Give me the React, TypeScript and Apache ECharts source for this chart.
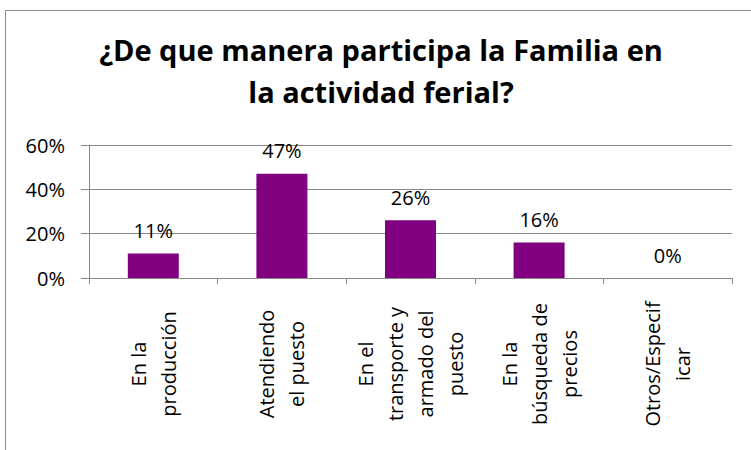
import React, { useEffect, useRef } from "react";
import * as echarts from "echarts";

const titleText = "¿De que manera participa la Familia en\nla actividad ferial?";
const categories = [
  "En la\nproducción",
  "Atendiendo\nel puesto",
  "En el\ntransporte y\narmado del\npuesto",
  "En la\nbúsqueda de\nprecios",
  "Otros/Especif\nicar",
];
const values = [0.11, 0.47, 0.26, 0.16, 0];
const yTicks = { min: 0, max: 0.6, interval: 0.2 };

const FONT = "Open Sans";

export default function App() {
  const ref = useRef<HTMLDivElement>(null);
  useEffect(() => {
    if (!ref.current) return;
    const chart = echarts.init(ref.current, undefined, { renderer: "svg" });
    chart.setOption({
      animation: false,
      backgroundColor: "#ffffff",
      textStyle: { fontFamily: FONT },
      title: {
        text: titleText,
        left: 381,
        textAlign: "center",
        top: 28,
        padding: 0,
        textStyle: {
          fontFamily: FONT,
          fontSize: 29,
          fontWeight: "bold",
          color: "#000",
          lineHeight: 42,
        },
      },
      graphic: [
        {
          type: "rect",
          shape: { x: 5.5, y: 10.5, width: 800, height: 500 },
          style: { fill: "none", stroke: "#8c8c8c", lineWidth: 1 },
          silent: true,
        },
      ],
      grid: { left: 89, right: 19, top: 145, bottom: 172 },
      xAxis: {
        type: "category",
        data: categories,
        axisLine: { lineStyle: { color: "#888", width: 1 } },
        axisTick: { show: true, length: 6, lineStyle: { color: "#888" } },
        axisLabel: {
          rotate: 90,
          align: "center",
          verticalAlign: "middle",
          margin: 86,
          interval: 0,
          color: "#000",
          fontFamily: FONT,
          fontSize: 20,
          lineHeight: 30,
        },
      },
      yAxis: {
        type: "value",
        min: yTicks.min,
        max: yTicks.max,
        interval: yTicks.interval,
        axisLine: { show: true, lineStyle: { color: "#888", width: 1 } },
        axisTick: { show: true, length: 8, lineStyle: { color: "#888" } },
        splitLine: { show: true, lineStyle: { color: "#888", width: 1 } },
        axisLabel: {
          margin: 24,
          color: "#000",
          fontFamily: FONT,
          fontSize: 20,
          formatter: (v: number) => `${Math.round(v * 100)}%`,
        },
      },
      series: [
        {
          type: "bar",
          data: values,
          barWidth: 51,
          itemStyle: { color: "#800080" },
          label: {
            show: true,
            position: "top",
            distance: 13,
            color: "#000",
            fontFamily: FONT,
            fontSize: 20,
            formatter: (p: any) => `${Math.round(p.value * 100)}%`,
          },
        },
      ],
    });
    return () => chart.dispose();
  }, []);
  return (
    <div
      ref={ref}
      style={{ position: "fixed", left: 0, top: 0, width: 751, height: 450 }}
    />
  );
}
